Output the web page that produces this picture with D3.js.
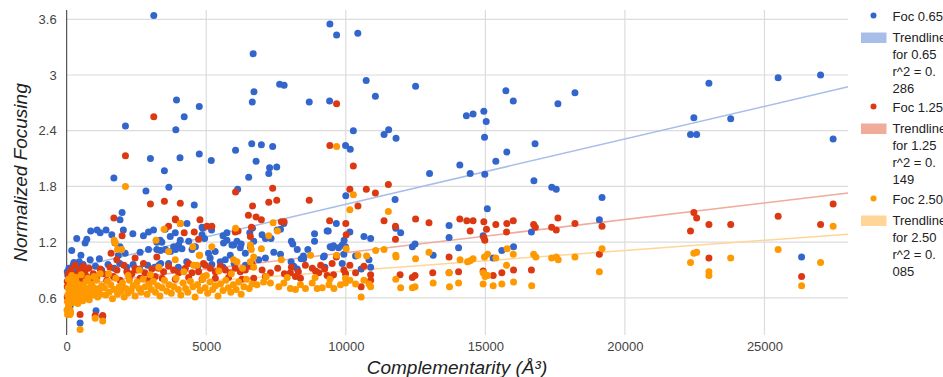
<!DOCTYPE html>
<html>
<head>
<meta charset="utf-8">
<script src="https://cdn.jsdelivr.net/npm/d3@7"></script>
<style>
  body { margin: 0; background: #fff; }
  svg text { font-family: Arial, "Liberation Sans", sans-serif; }
</style>
</head>
<body>
<div id="chart"></div>
<script>
// series: [complementarity, normalized focusing]
var foc065 = [
  [3120,3.64],[6680,3.23],[6710,2.82],[6650,2.71],[7630,2.90],[7790,2.89],[8690,2.71],[3935,2.73],[4750,2.66],[4210,2.55],
  [3910,2.41],[2105,2.45],[4060,2.11],[3000,2.10],[4750,2.15],[5180,2.08],[3500,1.97],[3660,1.79],[2840,1.75],[1690,1.89],
  [1985,1.52],[4570,1.60],[6050,2.19],[6630,2.26],[6975,2.25],[7380,2.23],[6785,2.07],[6520,1.90],[7270,2.00],[7525,2.01],
  [7240,1.94],[6125,1.77],[4880,1.35],[4940,1.24],[5190,1.33],[5600,1.27],[5740,1.22],[5980,1.17],[6220,1.14],
  [9430,3.55],[9670,3.43],[10430,3.45],[10730,2.94],[11060,2.77],[12500,2.88],[9420,2.72],[10270,2.40],[11370,2.36],[11535,2.41],
  [11800,2.32],[9990,2.24],[10160,2.20],[15735,2.83],[16000,2.72],[17600,2.69],[18210,2.81],[14320,2.56],[14560,2.58],[14945,2.61],
  [15030,2.50],[14970,2.33],[16780,2.26],[15770,2.17],[15375,2.07],[14085,2.03],[14455,1.94],[14980,1.93],[13000,1.94],[16740,1.86],
  [17380,1.79],[17540,1.77],[19180,1.68],[15070,1.56],[10000,1.70],[11765,1.66],[10145,1.31],[19085,1.44],[16650,1.31],[13700,1.38],
  [13700,1.25],[14920,1.27],[14040,1.14],[10650,1.26],[10890,1.24],[11790,1.35],[11965,1.30],[12385,1.15],[12480,1.18],[13130,1.06],
  [15280,1.03],[15590,1.11],[16010,1.15],[9660,1.40],[9370,1.32],[8880,1.29],[8880,1.21],[9940,1.22],[9870,1.17],[9440,1.15],
  [9560,1.16],[9740,1.14],[9200,1.04],[9870,0.97],[10350,1.05],[10830,1.01],[10890,0.93],[10550,0.91],[9250,0.93],[8640,1.12],
  [8480,1.05],[8400,1.02],[23010,2.91],[25490,2.97],[27010,3.00],[22470,2.54],[23790,2.53],[22350,2.36],[22570,2.36],[27460,2.31],
  [26330,1.04],[7780,1.40],[7660,1.34],[7000,1.28],[7120,1.24],[7320,1.24],[6700,1.21],[7540,1.33],[8050,1.21],[8100,1.18],
  [8260,1.12],[9330,1.32],[9510,1.14],[9990,1.15],[9230,1.05],[9930,1.07],[7420,1.09],[7660,1.07],[7120,1.03],[6880,1.01],
  [8040,0.99],[8135,0.94],[8260,0.91],[8490,1.02],[860,1.32],[360,1.24],[660,1.19],[720,1.23],[1410,1.33],[1615,1.28],
  [2370,1.29],[2750,1.27],[2930,1.31],[180,1.11],[510,1.06],[840,1.01],[1170,1.02],[1850,1.06],[2095,1.08],[2630,1.09],
  [2930,1.12],[3230,1.12],[1050,0.46],[1290,0.40],[480,0.33],[120,0.51],[1910,1.44],[2030,1.33],[1730,1.19],[1910,1.15],
  [20,0.88],[80,0.92],[150,0.90],[230,0.95],[300,0.87],[380,0.93],[450,0.99],[520,0.89],[590,0.96],[40,0.84],
  [260,0.98],[1030,0.94],[1250,0.90],[1480,0.96],[1700,0.92],[1900,0.97],[2150,0.93],[2380,0.96],[2620,0.91],[2900,0.95],
  [3150,0.93],[3370,0.97],[4310,1.40],[4850,1.36],[4850,1.28],[3530,1.34],[3710,1.26],[3890,1.30],[4070,1.22],[4010,1.17],
  [4130,1.13],[4370,1.21],[4490,1.12],[4610,1.15],[3230,1.20],[3410,1.20],[3360,1.11],[3540,1.12],[3720,1.10],[3900,1.12],
  [5080,1.08],[5320,1.10],[5140,1.03],[5500,0.99],[5680,1.01],[5860,1.06],[5620,1.19],[5920,1.17],[6100,1.21],[6250,1.18],
  [6400,1.08],[6580,1.15],[6560,1.30],[6660,1.35],[5740,1.30],[3300,0.95],[3650,0.97],[4000,0.93],[4300,0.99],[4700,0.94],
  [5200,0.96],[5600,0.93],[6000,0.97],[6400,0.95],[3110,1.33],[3350,1.22],[3830,1.15],[1090,1.33],[1200,1.30]
];

var foc125 = [
  [3120,2.55],[2105,2.13],[3000,1.61],[3500,1.64],[4070,1.62],[1690,1.46],[6050,1.74],[7380,1.78],[7240,1.63],[7525,1.65],
  [6660,1.59],[8690,1.65],[6510,1.49],[6785,1.47],[3900,1.44],[4775,1.44],[6975,1.44],[7690,1.42],[7790,1.42],[1985,1.27],
  [9670,2.69],[9430,2.24],[10270,2.02],[11525,1.82],[10145,1.77],[10735,1.77],[11060,1.73],[10435,1.59],[11370,1.43],[11780,1.37],
  [9420,1.43],[10000,1.40],[12500,1.45],[12980,1.41],[14085,1.45],[14335,1.43],[14560,1.43],[14945,1.42],[15040,1.34],[14455,1.32],
  [15375,1.39],[15770,1.40],[16000,1.43],[15760,1.31],[16730,1.39],[16790,1.36],[17375,1.36],[17540,1.33],[17600,1.46],[18210,1.40],
  [19180,1.37],[19085,1.07],[14945,1.25],[14980,1.22],[11780,1.23],[13700,1.04],[13700,0.87],[14040,0.88],[14920,0.89],[15280,0.84],
  [15590,0.87],[16010,0.90],[16650,0.90],[13115,0.87],[11945,0.85],[12385,0.82],[12480,0.84],
  [22470,1.52],[22570,1.46],[22350,1.32],[23010,1.39],[23790,1.39],[25490,1.48],[27010,1.39],[27460,1.61],[23010,1.03],[26330,0.83],
  [10015,1.28],[10145,0.95],[10650,0.94],[10350,0.87],[10890,0.85],[10890,0.79],[10550,0.72],[9990,0.86],
  [6620,1.36],[9660,1.04],[8915,0.89],[9030,0.87],[9240,0.91],[9510,0.97],[9930,0.90],[7000,0.90],[7120,0.83],[7300,0.87],
  [8015,0.87],[8195,0.83],[8375,0.81],[9330,0.84],[9440,0.82],[9560,0.85],[6700,0.81],[6640,0.97],
  [7560,0.92],[7800,0.86],[8050,0.93],[8300,0.88],[8550,0.95],[8800,0.92],[9100,0.95],
  [1590,1.08],[300,0.95],[595,0.94],[120,0.83],[360,0.85],[20,0.78],[240,0.79],[415,0.74],[720,0.83],[955,0.86],
  [1075,0.81],[1315,0.86],[1435,0.79],[1675,0.83],[1915,0.79],[2155,0.88],[2335,0.86],[2515,0.90],[2630,0.81],[2930,0.79],
  [3170,0.83],[120,0.45],[480,0.42],[1020,0.41],[1290,0.41],[20,0.72],[20,0.61],
  [3890,1.45],[4070,1.40],[3650,1.37],[4210,1.30],[4570,1.31],[5200,1.37],[6040,1.31],[6140,1.32],[6580,1.26],[4725,1.23],
  [3290,0.92],[3470,0.88],[3650,0.94],[3830,0.90],[4010,0.87],[4250,0.92],[4370,0.97],[4490,0.87],[4725,0.88],[4900,0.97],
  [4965,0.95],[5145,0.92],[5325,0.88],[5505,0.94],[5685,0.90],[5865,0.87],[6040,0.92],[6220,0.88],[6400,0.90],[6580,0.94],
  [3420,0.81],[3890,0.80],[4370,0.82],[4850,0.80],[5325,0.81],[5800,0.82],[6280,0.80],[5025,1.37],
  [2450,1.03],[2750,0.97],[3230,1.04],[1795,1.01],[1200,0.91],[1550,0.93],[1800,0.90],[2050,0.95],[2250,0.82],[2450,0.92],
  [2800,0.87],[3050,0.91],[60,0.86],[150,0.90],[200,0.70],[450,0.90],[520,0.80],[650,0.88],[800,0.92],[880,0.78]
];

var foc250 = [
  [2105,1.80],[3490,1.34],[4070,1.40],[6050,1.35],[7395,1.41],[7550,1.32],[1700,1.22],
  [9670,2.23],[10270,1.71],[10145,1.55],[11525,1.53],[11370,1.12],[12980,1.09],[12500,1.02],[11790,1.06],[11800,1.04],[14095,1.01],
  [14360,0.99],[14455,1.00],[14560,1.02],[14970,1.04],[15080,1.07],[15375,1.03],[15780,1.13],[16000,1.07],[16730,1.07],[16810,1.04],
  [17375,1.03],[17540,1.04],[17610,1.01],[18210,1.04],[19180,1.13],[19085,0.88],[13700,0.87],[14920,0.87],[14990,0.83],[15080,0.84],
  [15760,0.95],[13715,0.72],[14040,0.76],[14920,0.75],[15280,0.73],[15590,0.75],[16010,0.77],[16660,0.73],[13130,0.76],[11790,0.80],
  [11965,0.71],[12385,0.71],[12480,0.72],[10550,0.61],[10435,1.06],[10745,1.05],[11070,1.11],
  [22470,1.08],[22570,1.09],[22350,0.98],[23010,0.88],[23010,0.84],[23790,1.03],[25490,1.12],[26330,0.73],[27010,0.98],[27460,1.37],
  [6975,1.13],[6615,1.12],[6700,0.93],[9670,1.06],[8735,1.06],[10015,1.13],[7690,1.01],
  [6815,0.74],[7055,0.77],[7300,0.76],[7600,0.72],[7780,0.76],[8015,0.70],[8195,0.69],[8375,0.74],[8555,0.70],[8795,0.76],
  [8975,0.70],[9155,0.71],[9395,0.74],[9575,0.70],[9810,0.74],[9990,0.76],[10145,0.79],[10350,0.75],[10650,0.79],[10830,0.75],
  [10890,0.72],[9990,0.81],[9430,0.80],[8900,0.82],[7900,0.82],[7150,0.83],
  [7240,1.27],[5200,1.15],[6580,0.99],[6100,0.99],[4765,1.06],[3650,1.10],[3890,1.01],[4670,0.95],[4900,0.83],[1740,1.19],
  [1970,1.12],[4750,1.06],[1820,1.12],[4520,1.15],[6580,1.17],[6700,1.04],[5980,1.01],[3200,1.22],
  [120,0.42],[480,0.26],[1020,0.38],[1290,0.35],[30,0.42],[60,0.50],[120,0.47],
  [10,0.47],[25,0.56],[40,0.63],[55,0.71],[70,0.52],[90,0.66],[105,0.59],[125,0.75],[140,0.44],[160,0.68],
  [180,0.61],[200,0.79],[225,0.55],[245,0.65],[270,0.72],[295,0.58],[320,0.69],[345,0.77],[370,0.62],[400,0.54],
  [425,0.70],[455,0.66],[480,0.74],[510,0.60],[540,0.68],[575,0.57],[610,0.72],[650,0.65],[690,0.78],[730,0.62],
  [770,0.70],[810,0.58],[850,0.67],[890,0.75],[930,0.63],[975,0.71],[1020,0.66],[1070,0.79],[1110,0.61],[1160,0.70],
  [1210,0.64],[1260,0.73],[60,0.80],[180,0.84],[330,0.82],[520,0.85],[760,0.81],[980,0.83],[1200,0.86],
  [1350,0.71],[1400,0.63],[1460,0.78],[1520,0.66],[1580,0.74],[1640,0.59],[1700,0.69],[1760,0.81],[1820,0.64],[1880,0.72],
  [1940,0.67],[2000,0.76],[2060,0.61],[2120,0.70],[2190,0.65],[2250,0.79],[2310,0.68],[2380,0.73],[2450,0.62],[2520,0.77],
  [2590,0.70],[2660,0.66],[2740,0.80],[2810,0.72],[2880,0.64],[2950,0.75],[3030,0.69],[3100,0.78],[3180,0.66],[3260,0.73],
  [3340,0.62],[3420,0.71],[3500,0.79],[3590,0.67],[3670,0.74],[3750,0.65],[3840,0.72],[3920,0.81],[4000,0.69],[4090,0.63],
  [4170,0.76],[4260,0.70],[4340,0.66],[4430,0.78],[4520,0.72],[4600,0.61],[4690,0.74],[4780,0.68],[4870,0.80],[4960,0.71],
  [5050,0.65],[5140,0.77],[5230,0.69],[5330,0.73],[5420,0.62],[5510,0.75],[5600,0.68],[5700,0.79],[5790,0.71],[5880,0.66],
  [5970,0.74],[6070,0.69],[6160,0.77],[6250,0.64],[6350,0.72],[6440,0.80],[6540,0.70],[6640,0.75],
  [1500,0.86],[2200,0.84],[2600,0.90],[3000,0.85],[3300,0.93],[4200,0.88],[4550,0.95],[5000,0.84],[5450,0.89],[5900,0.86],
  [6300,0.92]
];

// trendlines: [intercept, slope]
var trend065 = [0.905, 7.03e-5];
var trend125 = [0.730, 3.57e-5];
var trend250 = [0.67, 2.2e-5];

var seriesNames = ["Foc 0.65", "Foc 1.25", "Foc 2.50"];
var trendLabels = [["Trendline", "for 0.65", "r^2 = 0.", "286"],
                   ["Trendline", "for 1.25", "r^2 = 0.", "149"],
                   ["Trendline", "for 2.50", "r^2 = 0.", "085"]];
var xTicks = [0, 5000, 10000, 15000, 20000, 25000];
var yTicks = [0.6, 1.2, 1.8, 2.4, 3, 3.6];

var colors = ["#3366cc", "#dc3912", "#ff9900"];
var trendColors = ["#a9bde9", "#f0ab9b", "#ffd598"];

var svgWidth = 943, svgHeight = 377;
var margin = {top: 10, right: 95, bottom: 42, left: 66.7};
var width = 848.2 - margin.left;
var height = 335 - margin.top;

var svg = d3.select("#chart").append("svg")
  .attr("width", svgWidth)
  .attr("height", svgHeight);

var chartGroup = svg.append("g")
  .attr("transform", `translate(${margin.left}, ${margin.top})`);

var xScale = d3.scaleLinear().domain([0, 28000]).range([0, width]);
var yScale = d3.scaleLinear().domain([0.2, 3.7]).range([height, 0]);

// gridlines
chartGroup.append("g").selectAll("line")
  .data(yTicks).enter().append("line")
  .attr("x1", 0).attr("x2", width)
  .attr("y1", d => yScale(d)).attr("y2", d => yScale(d))
  .attr("stroke", "#dcdcdc").attr("stroke-width", 1.2);

chartGroup.append("g").selectAll("line")
  .data(xTicks.slice(1)).enter().append("line")
  .attr("y1", 0).attr("y2", height)
  .attr("x1", d => xScale(d)).attr("x2", d => xScale(d))
  .attr("stroke", "#dcdcdc").attr("stroke-width", 1.2);

// axes (labels only)
var bottomAxis = d3.axisBottom(xScale).tickValues(xTicks).tickSize(0).tickPadding(7).tickFormat(d3.format("d"));
var leftAxis = d3.axisLeft(yScale).tickValues(yTicks).tickSize(0).tickPadding(10).tickFormat(d => String(d));

var xAxis = chartGroup.append("g")
  .attr("transform", `translate(0, ${height})`)
  .call(bottomAxis);
var yAxis = chartGroup.append("g").call(leftAxis);

[xAxis, yAxis].forEach(function(ax) {
  ax.select(".domain").remove();
  ax.selectAll("text")
    .attr("fill", "#444")
    .attr("font-size", 13)
    .attr("font-family", "Arial, 'Liberation Sans', sans-serif");
});

chartGroup.append("line")
  .attr("x1", 0).attr("x2", 0).attr("y1", 0).attr("y2", height)
  .attr("stroke", "#333").attr("stroke-width", 1);

// trendlines
svg.append("defs").append("clipPath").attr("id", "plotclip")
  .append("rect").attr("width", width).attr("height", height);

var trends = [trend065, trend125, trend250];
chartGroup.append("g").attr("clip-path", "url(#plotclip)")
  .selectAll("line").data(trends).enter().append("line")
  .attr("x1", xScale(0)).attr("x2", xScale(28000))
  .attr("y1", d => yScale(d[0]))
  .attr("y2", d => yScale(d[0] + d[1] * 28000))
  .attr("stroke", (d, i) => trendColors[i])
  .attr("stroke-width", 1.5);

// points
var allSeries = [foc065, foc125, foc250];
allSeries.forEach(function(data, i) {
  chartGroup.append("g").selectAll("circle")
    .data(data).enter().append("circle")
    .attr("cx", d => xScale(d[0]))
    .attr("cy", d => yScale(d[1]))
    .attr("r", 3.5)
    .attr("fill", colors[i]);
});

// axis titles
svg.append("text")
  .attr("transform", `translate(27, ${margin.top + height / 2}) rotate(-90)`)
  .attr("text-anchor", "middle")
  .attr("font-size", 19)
  .attr("font-style", "italic")
  .attr("fill", "#222")
  .text("Normalized Focusing");

svg.append("text")
  .attr("x", 457)
  .attr("y", 374)
  .attr("text-anchor", "middle")
  .attr("font-size", 19)
  .attr("font-style", "italic")
  .attr("fill", "#222")
  .text("Complementarity (Å³)");

// legend
var legend = svg.append("g").attr("transform", "translate(860, 0)");
var blockTop = [16, 107, 199];
seriesNames.forEach(function(name, i) {
  var y0 = blockTop[i];
  legend.append("circle").attr("cx", 13.5).attr("cy", y0 - 0.5).attr("r", 3).attr("fill", colors[i]);
  legend.append("text").attr("x", 32.5).attr("y", y0 + 4.5)
    .attr("font-size", 13).attr("fill", "#222").text(name);
  legend.append("rect").attr("x", 1).attr("y", y0 + 16.5).attr("width", 25.5).attr("height", 10.5)
    .attr("fill", trendColors[i]);
  trendLabels[i].forEach(function(t, j) {
    legend.append("text").attr("x", 32.5).attr("y", y0 + 25.5 + j * 17.3)
      .attr("font-size", 13).attr("fill", "#222").text(t);
  });
});
</script>
</body>
</html>
